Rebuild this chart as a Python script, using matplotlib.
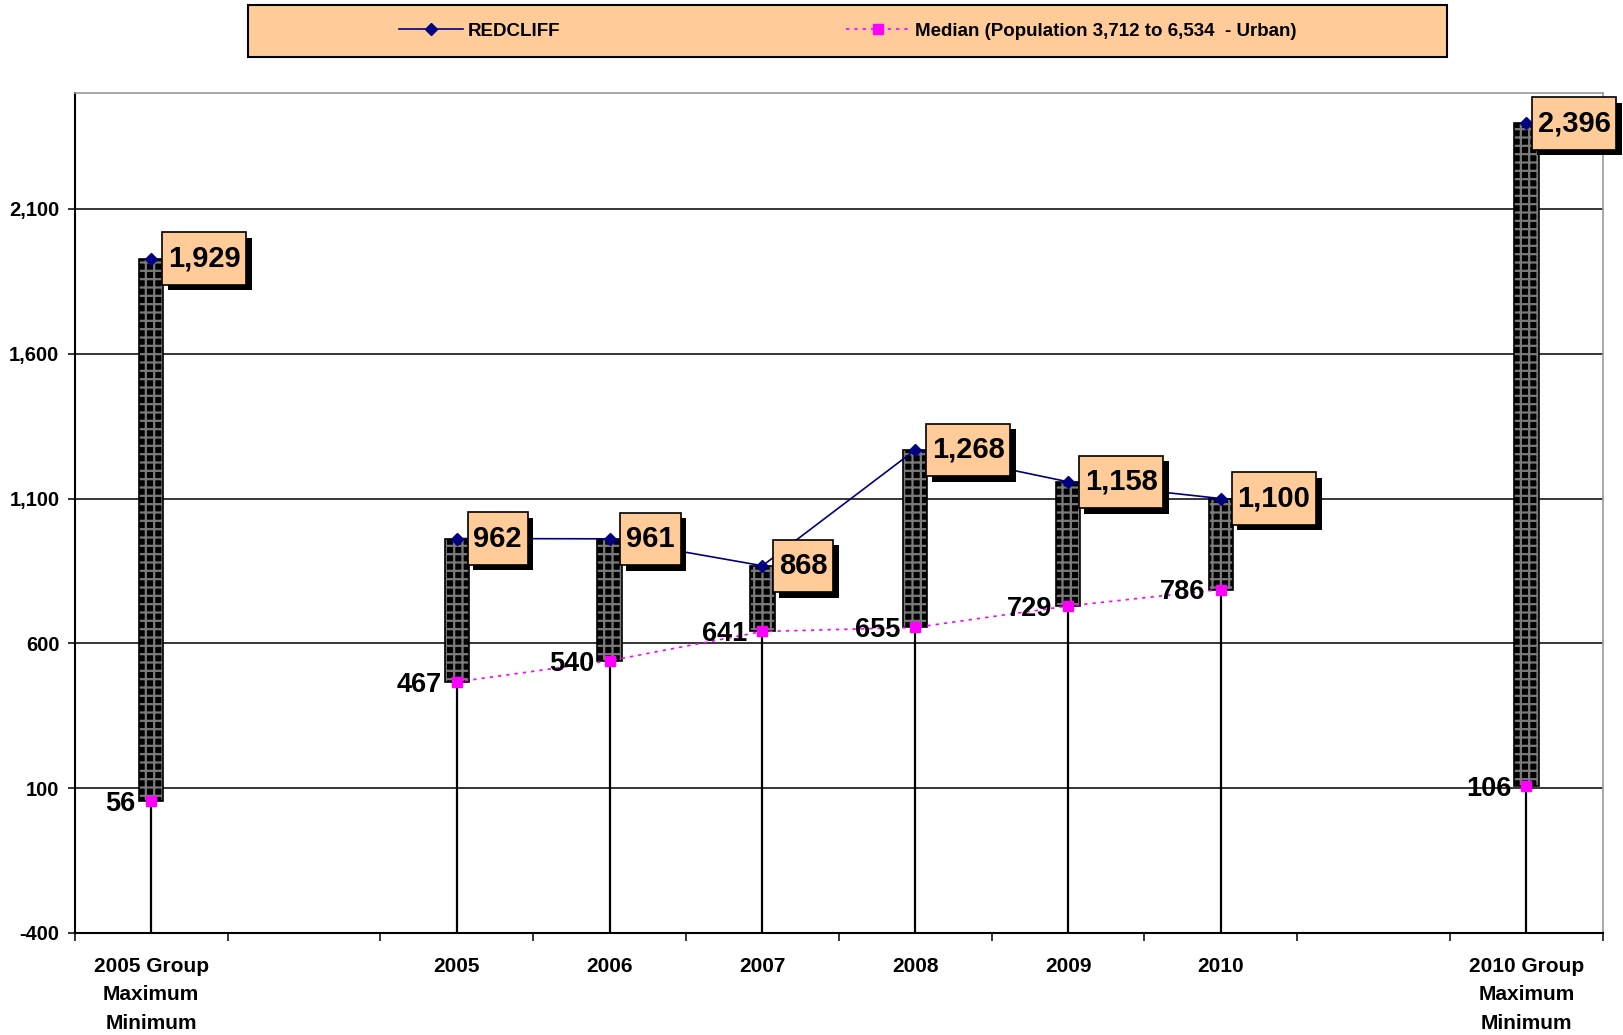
import matplotlib
matplotlib.use("Agg")
import matplotlib.pyplot as plt
import matplotlib.patheffects as pe
from matplotlib.lines import Line2D
from matplotlib.patches import Rectangle
from matplotlib.path import Path
from matplotlib.ticker import FuncFormatter, FixedLocator
import numpy as np

plt.rcParams["font.family"] = ["Liberation Sans", "DejaVu Sans"]
plt.rcParams["font.weight"] = "bold"
plt.rcParams["hatch.linewidth"] = 1.6

CATEGORIES = ["2005 Group\nMaximum\nMinimum", "", "2005", "2006", "2007",
              "2008", "2009", "2010", "", "2010 Group\nMaximum\nMinimum"]
REDCLIFF = [1929, np.nan, 962, 961, 868, 1268, 1158, 1100, np.nan, 2396]
MEDIAN = [56, np.nan, 467, 540, 641, 655, 729, 786, np.nan, 106]
YTICKS = [-400, 100, 600, 1100, 1600, 2100]
LEGEND_LABELS = ["REDCLIFF", "Median (Population 3,712 to 6,534  - Urban)"]

NAVY = "#000080"
MAGENTA = "#FF00FF"
PEACH = "#FFCC99"


def tall_box(x0, y0, width, height, mutation_size, padx=0.2, pady=0.42):
    # square box with more padding above/below than left/right
    px, py = mutation_size * padx, mutation_size * pady
    x0, y0 = x0 - px, y0 - py
    x1, y1 = x0 + width + 2 * px, y0 + height + 2 * py
    return Path([(x0, y0), (x1, y0), (x1, y1), (x0, y1), (x0, y0)], closed=True)


fig = plt.figure(figsize=(16.24, 10.35), dpi=100)
ax = fig.add_axes([0.046, 0.0986, 0.941, 0.8114])

x = np.arange(len(CATEGORIES))
red = np.array(REDCLIFF, dtype=float)
med = np.array(MEDIAN, dtype=float)
ok = ~np.isnan(red)
lo = np.minimum(red, med)
hi = np.maximum(red, med)
ymin, ymax = -400, 2500

# drop lines from the axis up to the lower point
ax.vlines(x[ok], ymin, lo[ok], color="black", lw=1.6, zorder=2)

# high-low bars (black with grey grid)
ax.bar(x[ok], (hi - lo)[ok], bottom=lo[ok], width=0.16, color="black",
       edgecolor="#7a7a7a", hatch="++", linewidth=0, zorder=2.5)
ax.bar(x[ok], (hi - lo)[ok], bottom=lo[ok], width=0.16, fill=False,
       edgecolor="black", linewidth=1.2, zorder=2.6)

ax.plot(x, red, color=NAVY, lw=1.2, marker="D", ms=6, mfc=NAVY, mec=NAVY, zorder=4)
ax.plot(x, med, color=MAGENTA, lw=1.2, ls=(0, (2, 3)), marker="s", ms=7,
        mfc=MAGENTA, mec=MAGENTA, zorder=4)

for i, (xi, r, m) in enumerate(zip(x[ok], red[ok], med[ok])):
    # the last label is nudged left so it stays inside the chart, as in the original
    dx = 8 if xi == len(CATEGORIES) - 1 else 12
    t = ax.annotate(f"{r:,.0f}", (xi, r), xytext=(dx, 0), textcoords="offset points",
                    ha="left", va="center", fontsize=21, fontweight="bold", zorder=6,
                    bbox=dict(boxstyle=tall_box, fc=PEACH, ec="black", lw=1.2))
    t.get_bbox_patch().set_path_effects(
        [pe.SimplePatchShadow(offset=(4, -4), shadow_rgbFace="black", alpha=1), pe.Normal()])
    ax.annotate(f"{m:,.0f}", (xi, m), xytext=(-11, -2), textcoords="offset points",
                ha="right", va="center", fontsize=19.5, fontweight="bold", zorder=6)

ax.set_xlim(-0.5, len(CATEGORIES) - 0.5)
ax.set_ylim(ymin, ymax)
ax.set_yticks(YTICKS)
ax.yaxis.set_major_formatter(FuncFormatter(lambda v, p: f"{v:,.0f}"))
ax.grid(axis="y", color="black", lw=1.1, zorder=1)
ax.set_axisbelow(True)
ax.tick_params(axis="y", labelsize=14.5, length=5, width=1.1, pad=6)

ax.set_xticks(x)
ax.set_xticklabels(CATEGORIES, fontsize=15, fontweight="bold", linespacing=1.65)
ax.xaxis.set_minor_locator(FixedLocator(np.arange(-0.5, len(CATEGORIES), 1.0)))
ax.tick_params(axis="x", which="major", length=0, pad=17)
ax.tick_params(axis="x", which="minor", length=6, width=1.1, direction="out")

for s in ("left", "bottom"):
    ax.spines[s].set_color("black")
    ax.spines[s].set_linewidth(1.5)
for s in ("top", "right"):
    ax.spines[s].set_color("#999999")
    ax.spines[s].set_linewidth(1.2)

# legend box at top
fig.patches.append(Rectangle((0.153, 0.945), 0.738, 0.050, transform=fig.transFigure,
                             facecolor=PEACH, edgecolor="black", lw=1.5, zorder=0))
handles = [Line2D([], [], color=NAVY, lw=1.2, marker="D", ms=6, mfc=NAVY, mec=NAVY),
           Line2D([], [], color=MAGENTA, lw=1.2, ls=(0, (2, 3)), marker="s", ms=7,
                  mfc=MAGENTA, mec=MAGENTA)]
fig.legend(handles, LEGEND_LABELS, loc="center", bbox_to_anchor=(0.522, 0.970),
           ncol=2, frameon=False, columnspacing=15.2, handlelength=3.4, handletextpad=0.28,
           prop={"weight": "bold", "size": 13.5})

fig.savefig("out.png", dpi=100)
